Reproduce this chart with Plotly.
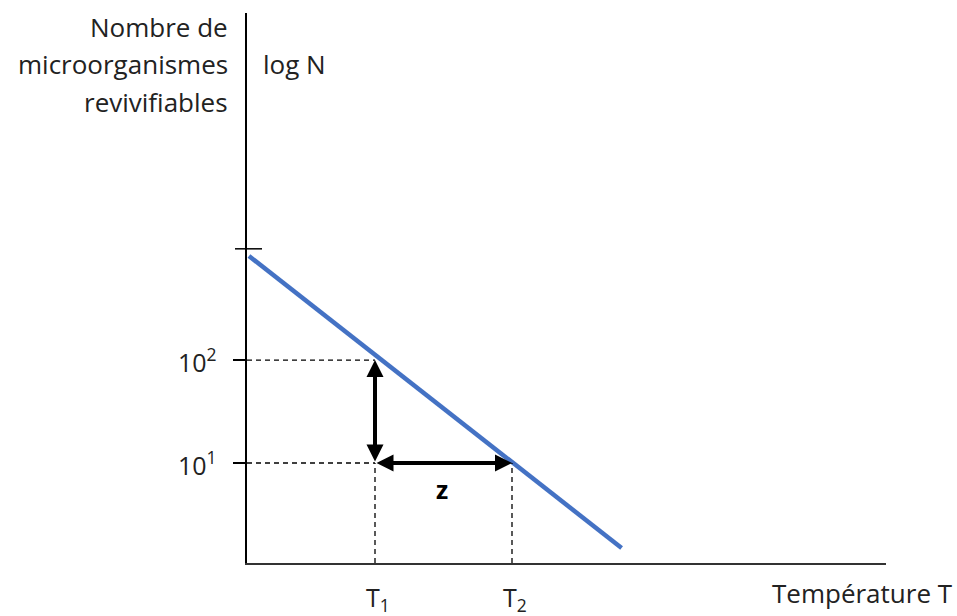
import plotly.graph_objects as go

# ---- data ----
T_values = [60, 70]                     # T1, T2 (arbitrary temperature units, z = 10)
T_labels = ["T<sub>1</sub>", "T<sub>2</sub>"]
logN_values = [1, 2]                    # log N at 10^1 and 10^2
logN_labels = ["10<sup>1</sup>", "10<sup>2</sup>"]
line_T = [50.8, 78.0]                   # destruction line
line_logN = [3.01, 0.175]
top_tick = 3.08                         # initial population tick
x_range = [50.657, 97.3]
y_range = [0.029, 5.37]

FONT = "Open Sans"
TXT = "#222222"
fig = go.Figure()

fig.add_trace(go.Scatter(x=line_T, y=line_logN, mode="lines",
                         line=dict(color="#4472C4", width=4.5),
                         hoverinfo="skip", showlegend=False))

shapes = []
dash = dict(color="black", width=1.3, dash="5px,4px")
for v in logN_values:
    shapes.append(dict(type="line", xref="x", yref="y", x0=x_range[0], x1=T_values[0],
                       y0=v, y1=v, line=dash))
for t in T_values:
    shapes.append(dict(type="line", xref="x", yref="y", x0=t, x1=t,
                       y0=y_range[0], y1=logN_values[0], line=dash))
shapes.append(dict(type="line", xref="paper", yref="y", xsizemode="pixel", xanchor=0,
                   x0=-12, x1=15, y0=top_tick, y1=top_tick,
                   line=dict(color="black", width=1.5)))

annotations = []
for (hx, hy) in [(T_values[0], logN_values[1]), (T_values[1], logN_values[0])]:
    annotations.append(dict(x=hx, y=hy, ax=T_values[0], ay=logN_values[0],
                            xref="x", yref="y", axref="x", ayref="y", text="",
                            showarrow=True, arrowhead=2, arrowside="end+start",
                            arrowsize=0.85, arrowwidth=4, arrowcolor="black",
                            standoff=0, startstandoff=0))
annotations.append(dict(x=(T_values[0] + T_values[1]) / 2, y=logN_values[0], xref="x", yref="y",
                        text="<b>z</b>", showarrow=False, yshift=-26, xshift=-2,
                        font=dict(family=FONT, size=25, color="black")))
for t, lab in zip(T_values, T_labels):
    annotations.append(dict(x=t, y=0, xref="x", yref="paper", text=lab, showarrow=False,
                            xanchor="center", yanchor="middle", yshift=-35, xshift=3,
                            font=dict(family=FONT, size=25, color=TXT)))
for v, lab in zip(logN_values, logN_labels):
    annotations.append(dict(x=0, y=v, xref="paper", yref="y", text=lab, showarrow=False,
                            xanchor="right", yanchor="middle", xshift=-28,
                            font=dict(family=FONT, size=25, color=TXT)))
ytitle_lines = ["Nombre de", "microorganismes", "revivifiables"]
ytitle_py = [27, 64, 102]
for txt, py in zip(ytitle_lines, ytitle_py):
    annotations.append(dict(x=0, y=(563 - py) / 550, xref="paper", yref="paper", text=txt,
                            showarrow=False, xanchor="right", yanchor="middle", xshift=-17,
                            font=dict(family=FONT, size=26, color=TXT)))
annotations.append(dict(x=0, y=(563 - 64) / 550, xref="paper", yref="paper", text="log N",
                        showarrow=False, xanchor="left", yanchor="middle", xshift=14,
                        font=dict(family=FONT, size=26, color=TXT)))
annotations.append(dict(x=(955 - 247) / 639, y=0, xref="paper", yref="paper",
                        text="Température T", showarrow=False, xanchor="right",
                        yanchor="middle", yshift=-30,
                        font=dict(family=FONT, size=26, color=TXT)))

fig.update_layout(
    width=957, height=616,
    margin=dict(l=247, r=71, t=13, b=53),
    paper_bgcolor="white", plot_bgcolor="white",
    shapes=shapes, annotations=annotations, showlegend=False,
    xaxis=dict(range=x_range, showline=True, linecolor="#333333", linewidth=2,
               showgrid=False, zeroline=False, showticklabels=False, ticks=""),
    yaxis=dict(range=y_range, showline=True, linecolor="black", linewidth=1.5,
               showgrid=False, zeroline=False, showticklabels=False,
               tickvals=logN_values, ticks="outside", ticklen=12,
               tickcolor="black", tickwidth=1.5),
)

fig.write_html("out.html", config={"displayModeBar": False},
               post_script="document.body.style.margin='0';")
